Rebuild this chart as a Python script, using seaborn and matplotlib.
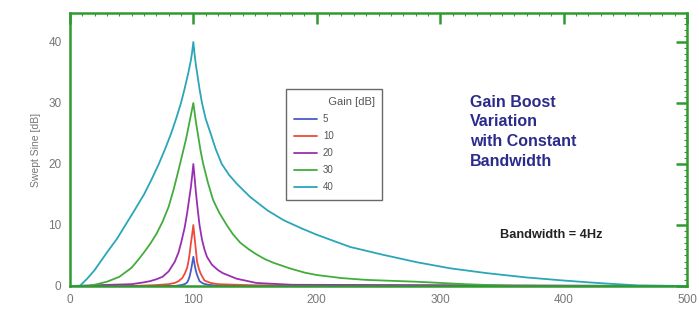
import matplotlib
matplotlib.use("Agg")
import matplotlib.pyplot as plt
import seaborn as sns
import pandas as pd
from matplotlib.ticker import MultipleLocator

# values (frequency in Hz, level in dB)
g5_f = [0, 85, 90, 93, 95, 96, 97, 98, 99, 100, 100.8, 101.5, 102.7, 104, 105,
        108, 112, 120, 500]
g5_db = [0, 0, 0.15, 0.3, 0.6, 1, 1.6, 2.5, 3.6, 4.8, 3.8, 3, 2, 1.3, 0.8,
         0.4, 0.2, 0.05, 0]

g10_f = [0, 50, 70, 80, 85, 88, 91, 93, 95, 96, 97, 98, 99, 100, 100.8, 101.5,
         102.3, 103, 104.5, 106, 109, 114, 120, 150, 500]
g10_db = [0, 0, 0.15, 0.3, 0.5, 0.8, 1.3, 2, 3, 4, 5.3, 7, 8.4, 10, 8.3, 7,
          5.4, 4, 2.8, 2, 0.9, 0.5, 0.3, 0.1, 0]

g20_f = [0, 50, 60, 65, 70, 75, 80, 85, 88, 90, 93, 95, 97, 98, 99, 100, 101,
         102, 103.5, 105, 107, 109, 111, 115, 120, 124, 135, 151, 180, 500]
g20_db = [0, 0.3, 0.6, 0.8, 1.1, 1.5, 2.4, 4, 5.5, 7, 9.6, 12, 14.8, 16.2, 18,
          20, 17.8, 15.5, 12.6, 10, 7.6, 6, 4.8, 3.5, 2.6, 2.1, 1.2, 0.5, 0.2, 0]

g30_f = [0, 15, 22, 30, 40, 50, 55, 60, 65, 70, 75, 80, 84, 88, 91, 94, 96, 98,
         100, 102, 104, 106, 108, 112, 116, 121, 127, 132, 138, 145, 151, 158,
         165, 178, 190, 200, 220, 240, 281, 320, 360, 500]
g30_db = [0, 0, 0.3, 0.7, 1.5, 3, 4.2, 5.5, 6.9, 8.5, 10.5, 13, 15.8, 19, 21.5,
          24, 26, 28, 30, 27, 24.5, 22, 20, 16.8, 14.1, 12, 10, 8.5, 7.1, 6.0,
          5.2, 4.4, 3.8, 2.9, 2.2, 1.8, 1.3, 1.0, 0.7, 0.3, 0, 0]

g40_f = [0, 8, 14, 20, 30, 38, 45, 52, 60, 66, 72, 77, 82, 86, 90, 93, 96, 98,
         99, 100, 101, 102, 103, 105, 107, 110, 114, 118, 123, 129, 135, 146,
         160, 173, 187, 200, 227, 254, 281, 308, 338, 370, 400, 420, 435, 460,
         500]
g40_db = [0, 0, 1.2, 2.6, 5.5, 7.7, 10, 12.3, 15, 17.4, 20, 22.4, 25, 27.4, 30,
          32.4, 35, 37, 38.3, 40, 38, 36.3, 35, 32.3, 30, 27.4, 25, 22.5, 20,
          18.2, 16.8, 14.6, 12.4, 10.8, 9.5, 8.4, 6.4, 5.1, 3.9, 2.9, 2.1, 1.4,
          0.9, 0.6, 0.4, 0.1, 0]

gain_labels = ["5", "10", "20", "30", "40"]
colors = ["#4a5cc8", "#ef4a3a", "#9a30b0", "#42ad3c", "#2aa6b8"]

frames = []
for lab, f, db in zip(gain_labels,
                      [g5_f, g10_f, g20_f, g30_f, g40_f],
                      [g5_db, g10_db, g20_db, g30_db, g40_db]):
    frames.append(pd.DataFrame({"freq": f, "db": db, "gain": lab}))
df = pd.concat(frames, ignore_index=True)

sns.set_style("white")
plt.rcParams["font.family"] = ["Liberation Sans", "DejaVu Sans"]

fig = plt.figure(figsize=(6.99, 3.25), dpi=100)
ax = fig.add_axes([0.1, 0.12, 0.883, 0.84])

sns.lineplot(data=df, x="freq", y="db", hue="gain", hue_order=gain_labels,
             palette=colors, linewidth=1.3, sort=False, estimator=None, ax=ax)

ax.set_xlim(0, 500)
ax.set_ylim(0, 44.75)
ax.set_xlabel("")
ax.set_ylabel("Swept Sine [dB]", fontsize=7.5, color="#777777", labelpad=5)

green = "#2f9a2f"
for s in ax.spines.values():
    s.set_color(green)
    s.set_linewidth(1.8)

ax.xaxis.set_major_locator(MultipleLocator(100))
ax.xaxis.set_minor_locator(MultipleLocator(10))
ax.yaxis.set_major_locator(MultipleLocator(10))
ax.yaxis.set_minor_locator(MultipleLocator(1))
ax.tick_params(which="major", direction="in", length=8, width=1.8, color=green,
               top=True, right=True, labelsize=8.5, labelcolor="#777777", pad=6)
ax.tick_params(which="minor", direction="in", length=2.5, width=0.8, color=green,
               top=True, right=True)

leg = ax.legend(title="           Gain [dB]", fontsize=7, title_fontsize=8,
                loc="upper left", bbox_to_anchor=(0.35, 0.72), borderaxespad=0,
                frameon=True, fancybox=False, handlelength=2.4,
                handletextpad=0.6, labelspacing=0.72, borderpad=0.8,
                labelcolor="#555555")
leg.get_frame().set_edgecolor("#444444")
leg.get_frame().set_linewidth(1.0)
leg._legend_box.align = "left"
leg.get_title().set_color("#555555")

ax.text(0.648, 0.70, "Gain Boost\nVariation\nwith Constant\nBandwidth",
        transform=ax.transAxes, ha="left", va="top", fontsize=11.5,
        fontweight="bold", color="#2b2b8c", linespacing=1.38)
ax.text(0.697, 0.187, "Bandwidth = 4Hz", transform=ax.transAxes,
        ha="left", va="center", fontsize=9.2, fontweight="bold", color="#222222")

fig.savefig("out.png", dpi=100)
